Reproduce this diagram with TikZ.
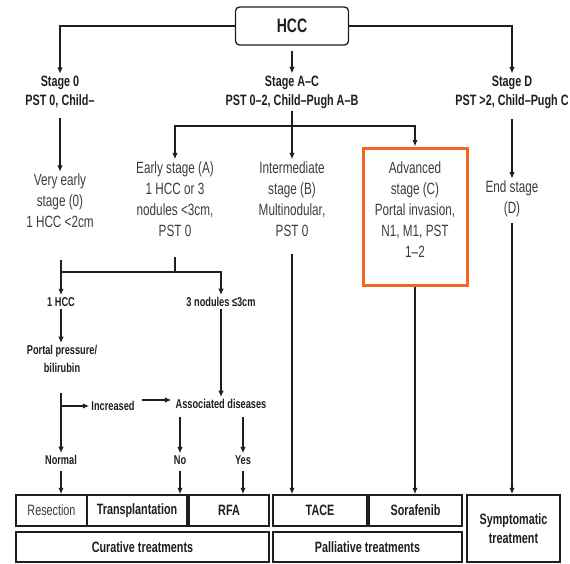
\documentclass[tikz,border=0pt]{standalone}
\usepackage{fontspec}
\setmainfont{Liberation Sans}
\newfontfamily\narrowsans{Liberation Sans}[FakeStretch=0.72]
\usetikzlibrary{arrows.meta}
\definecolor{ink}{RGB}{30,30,30}
\definecolor{soft}{RGB}{60,60,60}
\definecolor{hilite}{RGB}{242,101,34}
\begin{document}
\begin{tikzpicture}[x=1pt,y=-1pt,
  line/.style={draw=ink,line width=1.8pt},
  arr/.style={line,-{Latex[length=6.5pt,width=5.5pt]}},
  stagelab/.style={font=\narrowsans\fontsize{15}{19}\selectfont\bfseries,text=ink,align=center,inner sep=2pt},
  plain/.style={font=\narrowsans\fontsize{16.3}{21}\selectfont,text=soft,align=center,inner sep=2pt},
  minor/.style={font=\narrowsans\fontsize{12.8}{18}\selectfont\bfseries,text=ink,align=center,inner sep=2pt},
  treat/.style={draw=ink,line width=1.5pt,font=\narrowsans\fontsize{15}{19}\selectfont\bfseries,text=ink,
    align=center,inner sep=0pt,minimum height=31pt}]
\useasboundingbox (0,0) rectangle (570,563);

% root
\node[draw=ink,line width=1.3pt,rounded corners=4pt,minimum width=113pt,minimum height=38pt,
  font=\narrowsans\fontsize{19.5}{22}\selectfont\bfseries,text=ink] (hcc) at (292,26) {HCC};

% stage headings
\node[stagelab] (s0) at (60,92) {Stage 0\\PST 0, Child–};
\node[stagelab] (sac) at (292,92) {Stage A–C\\PST 0–2, Child–Pugh A–B};
\node[stagelab] (sd) at (512,92) {Stage D\\PST >2, Child–Pugh C};

% stage descriptions
\node[plain] (vearly) at (60,201) {Very early\\stage (0)\\1 HCC <2cm};
\node[plain] (early) at (175,199) {Early stage (A)\\1 HCC or 3\\nodules <3cm,\\PST 0};
\node[plain] (inter) at (292,199) {Intermediate\\stage (B)\\Multinodular,\\PST 0};
\node[draw=hilite,line width=3pt,minimum width=104pt,minimum height=137pt,inner sep=0pt] (adv) at (415,216.5) {};
\node[plain] (advtext) at (415,210) {Advanced\\stage (C)\\Portal invasion,\\N1, M1, PST\\1–2};
\node[plain] (endst) at (512,199) {End stage\\(D)};

% early-stage decision path
\node[minor] (one) at (61,302) {1 HCC};
\node[minor] (three) at (221,302) {3 nodules ≤3cm};
\node[minor] (portal) at (62,359) {Portal pressure/\\bilirubin};
\node[minor] (incr) at (113,406) {Increased};
\node[minor] (assoc) at (221,404) {Associated diseases};
\node[minor] (normal) at (61,460) {Normal};
\node[minor] (no) at (180,460) {No};
\node[minor] (yes) at (243,460) {Yes};

% treatments
\node[treat,minimum width=71pt,font=\narrowsans\fontsize{15}{19}\selectfont,text=soft] (res) at (51.5,510.5) {Resection};
\node[treat,minimum width=100pt] (trans) at (137,510.5) {Transplantation};
\node[treat,minimum width=80pt] (rfa) at (229,510.5) {RFA};
\node[treat,minimum width=94pt] (tace) at (320,510.5) {TACE};
\node[treat,minimum width=93pt] (sora) at (415.5,510.5) {Sorafenib};
\node[treat,minimum width=93pt,minimum height=67pt] (sympt) at (513.5,528.5) {Symptomatic\\treatment};
\node[treat,minimum width=253pt,minimum height=30pt] (cur) at (142.5,547) {Curative treatments};
\node[treat,minimum width=189pt,minimum height=30pt] (pal) at (367.5,547) {Palliative treatments};

% root to stages
\draw[arr] (hcc.west) -| (s0.north);
\draw[arr] (hcc.east) -| (sd.north);
\draw[arr,shorten <=5pt] (hcc.south) -- (sac.north);

% stages to descriptions
\draw[arr,shorten <=8pt] (s0.south) -- (s0.south |- vearly.north);
\draw[arr,shorten <=8pt] (sd.south) -- (sd.south |- endst.north);
\draw[arr] (sac.south) -- (sac.south |- inter.north);
\coordinate (acj) at (292,126);
\draw[arr] (acj) -| (early.north);
\draw[arr] (acj) -| (adv.north);

% bracket joining very early and early stages
\coordinate (hj) at (175,272);
\coordinate (vtop) at (61,260);
\draw[line,shorten <=18pt] (early.south) -- (hj);
\draw[line] (hj) -- (vtop |- hj);
\draw[arr] (vtop) -- (one.north);
\draw[arr] (hj) -| (three.north);

\draw[arr] (one.south) -- (one.south |- portal.north);
\draw[arr] (three.south) -- (three.south |- assoc.north);
\draw[arr,shorten <=18pt] (portal.south -| normal) -- (normal.north);
\coordinate (pk) at (61,406);
\draw[arr] (pk) -- (incr.west);
\draw[arr,shorten <=5pt,shorten >=2pt] ([yshift=6pt]incr.east) -- ([yshift=6pt]incr.east -| assoc.west);
\draw[arr,shorten <=6pt] (assoc.south -| no) -- (no.north);
\draw[arr,shorten <=6pt] (assoc.south -| yes) -- (yes.north);

% decisions to treatments
\draw[arr,shorten <=4pt] (normal.south) -- (normal.south |- res.north);
\draw[arr,shorten <=4pt] (no.south) -- (no.south |- trans.north);
\draw[arr,shorten <=4pt] (yes.south) -- (yes.south |- rfa.north);
\draw[arr,shorten <=15pt] (inter.south -| sac.south) -- (sac.south |- tace.north);
\draw[arr] (adv.south) -- (adv.south |- sora.north);
\draw[arr,shorten <=4pt] (endst.south) -- (endst.south |- sympt.north);
\end{tikzpicture}
\end{document}
